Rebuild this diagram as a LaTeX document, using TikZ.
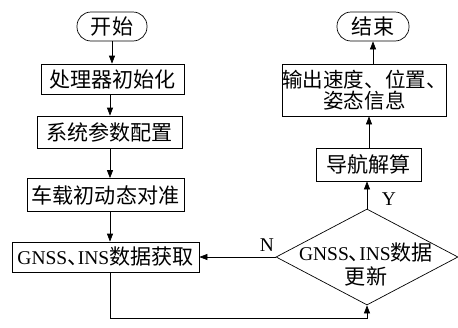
\documentclass[tikz,border=0pt]{standalone}
\usepackage{fontspec}
\setmainfont{Liberation Serif}
\newfontfamily\cjk[Scale=1.08]{Noto Sans CJK SC}
\newfontfamily\cjkhalf[Scale=1.08,RawFeature=+halt]{Noto Sans CJK SC}
\usetikzlibrary{shapes.geometric,arrows.meta}
\newcommand\zh[1]{{\cjk #1}}
\newcommand\dun{{\cjkhalf 、}}
\tikzset{
  box/.style={draw, line width=0.7pt, rectangle, inner sep=0pt, font=\fontsize{19.5}{23}\selectfont, align=center},
  term/.style={draw, line width=0.7pt, rectangle, rounded corners=14pt, inner sep=0pt, font=\fontsize{19.5}{23}\selectfont},
  dia/.style={draw, line width=0.7pt, diamond, inner sep=0pt},
  lbl/.style={font=\fontsize{19.5}{23}\selectfont, inner sep=0pt},
  arr/.style={line width=0.7pt, -{Triangle[width=6pt,length=8pt]}},
  ln/.style={line width=0.7pt}
}
\begin{document}
\begin{tikzpicture}[x=1pt,y=-1pt]
\useasboundingbox (0,0) rectangle (458,327);
\node[term, minimum width=70pt, minimum height=29pt] (start) at (112,26.5) {\zh{开始}};
\node[box, minimum width=143pt, minimum height=30pt] (init) at (112.5,79) {\zh{处理器初始化}};
\node[box, minimum width=145pt, minimum height=32pt] (cfg) at (109.5,132) {\zh{系统参数配置}};
\node[box, minimum width=157pt, minimum height=33pt] (align) at (105.5,195) {\zh{车载初动态对准}};
\node[box, minimum width=187pt, minimum height=30pt] (gnss) at (105.5,257) {GNSS\dun INS\zh{数据获取}};
\node[dia, minimum width=182pt, minimum height=96pt] (dec) at (367,257) {};
\node[lbl, align=center, font=\fontsize{19.5}{24}\selectfont] (dectext) at (366,264) {GNSS\dun INS\zh{数据}\\\zh{更新}};
\node[box, minimum width=105pt, minimum height=33pt] (nav) at (368.5,164.5) {\zh{导航解算}};
\node[box, minimum width=159pt, minimum height=52pt, font=\fontsize{19}{21.5}\selectfont] (out) at (364.5,90) {\zh{输出速度、位置、}\\\zh{姿态信息}};
\node[term, minimum width=72pt, minimum height=29pt] (end) at (373,26.5) {\zh{结束}};
\coordinate (colL) at (110,0);
\coordinate (bot) at (0,318);
\draw[arr] (start.south) -- (start.south |- init.north);
\draw[arr] (init.south -| colL) -- (cfg.north -| colL);
\draw[arr] (cfg.south -| colL) -- (align.north -| colL);
\draw[arr] (align.south -| colL) -- (gnss.north -| colL);
\draw[arr] (gnss.south -| colL) -- (bot -| colL) -| (dec.south);
\draw[arr] (dec.west) -- (gnss.east);
\node[lbl] (nlab) at (267,245) {N};
\draw[arr] (dec.north) -- (dec.north |- nav.south);
\node[lbl] (ylab) at (389,199) {Y};
\coordinate (colN) at (369,0);
\draw[arr] (nav.north -| colN) -- (out.south -| colN);
\draw[arr] (out.north -| end.south) -- (end.south);
\end{tikzpicture}
\end{document}
